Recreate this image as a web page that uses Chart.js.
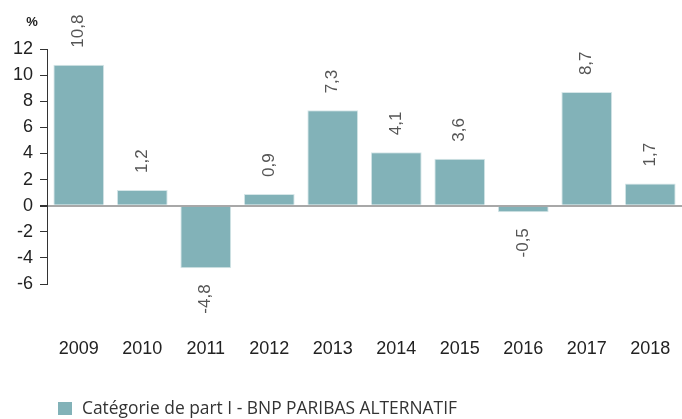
<!DOCTYPE html>
<html lang="fr">
<head>
<meta charset="UTF-8">
<title>Performance annuelle</title>
<script src="https://cdn.jsdelivr.net/npm/chart.js"></script>
<style>
  html, body { margin: 0; padding: 0; background: #fff; }
  #wrap { position: relative; width: 682px; height: 419px; }
</style>
</head>
<body>
<div id="wrap"><canvas id="perfChart"></canvas></div>
<script>
  const years = ['2009', '2010', '2011', '2012', '2013', '2014', '2015', '2016', '2017', '2018'];
  const perf = [10.8, 1.2, -4.8, 0.9, 7.3, 4.1, 3.6, -0.5, 8.7, 1.7];
  const yTicks = [-6, -4, -2, 0, 2, 4, 6, 8, 10, 12];
  const seriesName = 'Catégorie de part I - BNP PARIBAS ALTERNATIF';

  const barColor = '#82b2b8';
  const tickFont = "'Liberation Sans', Arial, sans-serif";
  const legendFont = "'Open Sans', 'DejaVu Sans', sans-serif";

  // valeurs en vertical, unité et légende
  const extras = {
    id: 'extras',
    afterDatasetsDraw(chart) {
      const ctx = chart.ctx;
      const meta = chart.getDatasetMeta(0);
      ctx.save();
      ctx.font = '17px ' + tickFont;
      ctx.fillStyle = '#555';
      ctx.textBaseline = 'middle';
      meta.data.forEach((bar, i) => {
        const v = perf[i];
        const txt = v.toFixed(1).replace('.', ',');
        ctx.save();
        ctx.translate(bar.x, bar.y);
        ctx.rotate(-Math.PI / 2);
        if (v >= 0) {
          ctx.textAlign = 'left';
          ctx.fillText(txt, 17, 0);
        } else {
          ctx.textAlign = 'right';
          ctx.fillText(txt, -16, 0);
        }
        ctx.restore();
      });

      ctx.font = 'bold 13px ' + tickFont;
      ctx.fillStyle = '#222';
      ctx.textAlign = 'center';
      ctx.fillText('%', 32, 22);

      // légende
      const ds = chart.data.datasets[0];
      ctx.fillStyle = ds.backgroundColor;
      ctx.fillRect(58, 402, 14, 13);
      ctx.font = '17.4px ' + legendFont;
      ctx.fillStyle = '#333';
      ctx.textAlign = 'left';
      ctx.fillText(ds.label, 82, 409);
      ctx.restore();
    }
  };

  new Chart(document.getElementById('perfChart'), {
    type: 'bar',
    data: {
      labels: years,
      datasets: [{
        label: seriesName,
        data: perf,
        backgroundColor: barColor,
        borderColor: '#d6e6e8',
        borderWidth: 1,
        barPercentage: 0.8,
        categoryPercentage: 1
      }]
    },
    options: {
      responsive: true,
      maintainAspectRatio: false,
      animation: false,
      layout: { padding: { top: 49, right: -2, left: 6, bottom: 0 } },
      plugins: {
        legend: { display: false },
        tooltip: { enabled: false }
      },
      scales: {
        x: {
          afterFit: s => { s.height = 135; },
          grid: { display: true, drawOnChartArea: false, color: 'transparent', tickLength: 51 },
          border: { display: false },
          ticks: {
            color: '#222',
            padding: 3,
            maxRotation: 0,
            font: { family: tickFont, size: 18 }
          }
        },
        y: {
          min: -6,
          max: 12,
          afterBuildTicks: axis => { axis.ticks = yTicks.map(v => ({ value: v })); },
          border: { display: true, color: '#333', width: 1 },
          grid: {
            drawOnChartArea: true,
            color: c => (c.tick && c.tick.value === 0) ? '#a8a8a8' : 'transparent',
            lineWidth: c => (c.tick && c.tick.value === 0) ? 2 : 1,
            tickColor: '#333',
            tickLength: 7
          },
          ticks: {
            color: '#222',
            padding: 7,
            font: { family: tickFont, size: 18 }
          }
        }
      }
    },
    plugins: [extras]
  });
</script>
</body>
</html>
